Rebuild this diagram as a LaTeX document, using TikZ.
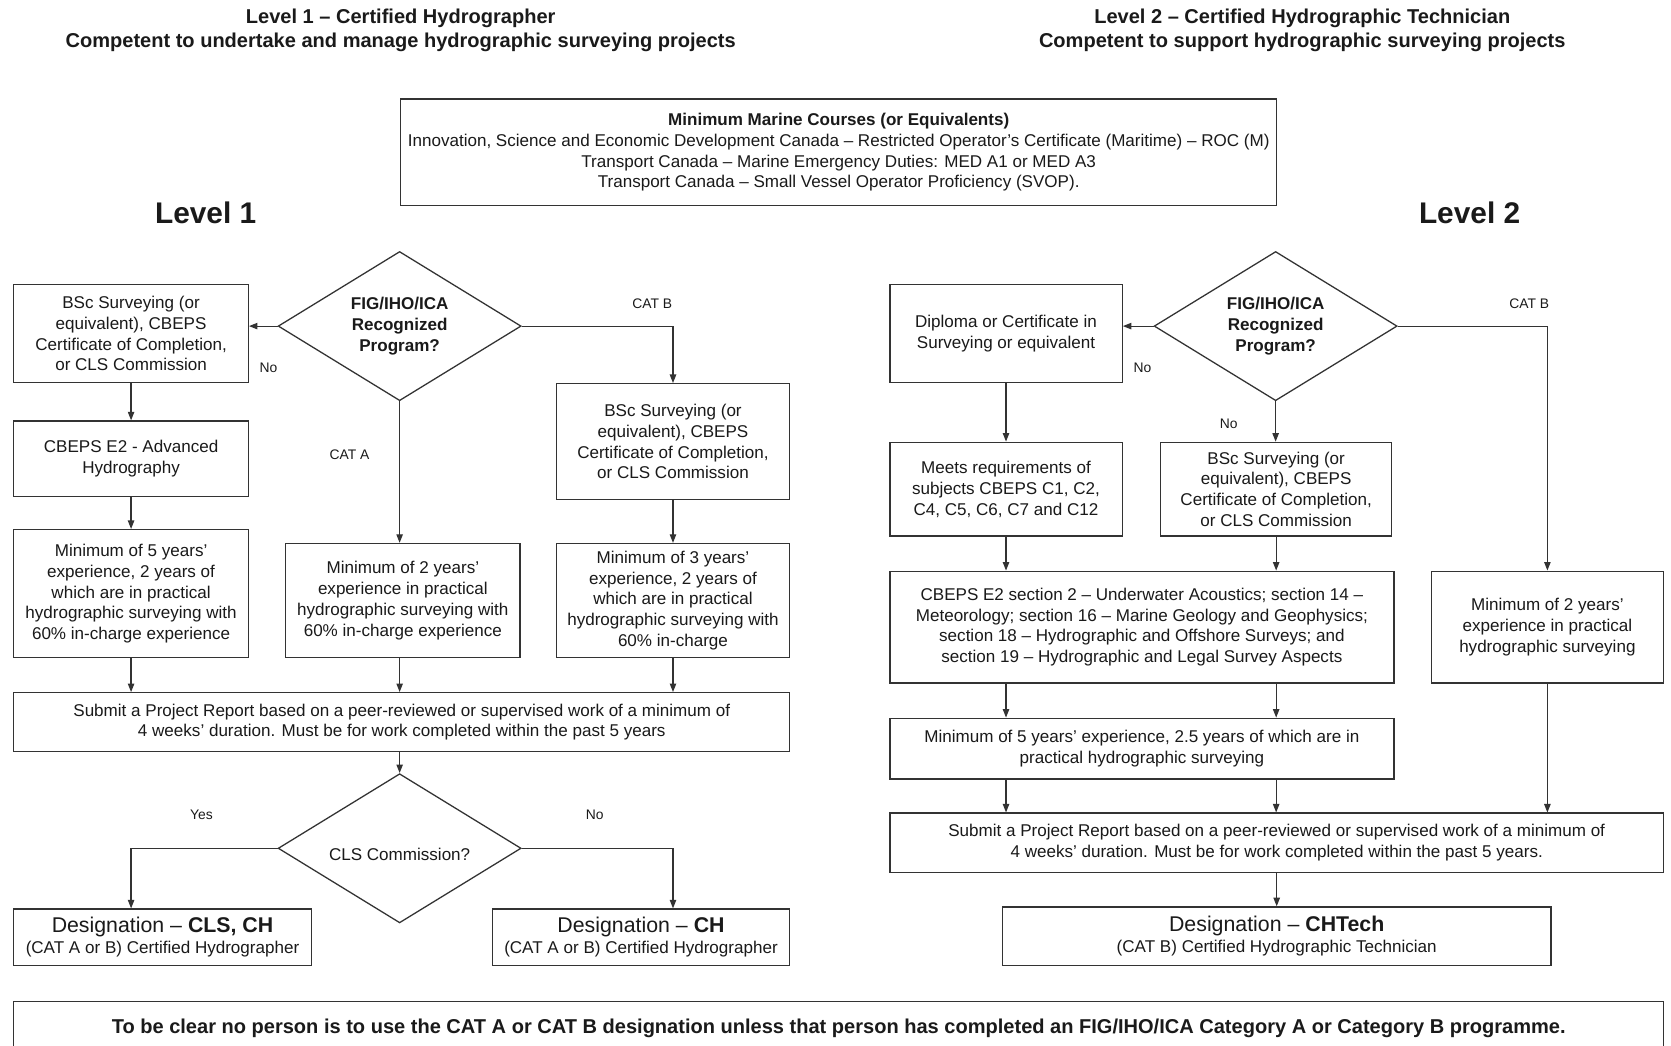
\documentclass[tikz,border=0pt]{standalone}
\usepackage{fontspec}
\setmainfont{Liberation Sans}
\usetikzlibrary{shapes.geometric,arrows.meta,calc}
\definecolor{ln}{HTML}{333333}
\definecolor{txt}{HTML}{1A1A1A}
\newcommand{\desfont}{\fontsize{20}{22}\selectfont}
\begin{document}
\begin{tikzpicture}[x=1pt,y=-1pt,
  every node/.style={text=txt},
  box/.style={draw=ln, line width=1.2pt, align=center, inner sep=2pt, font=\fontsize{16}{19.5}\selectfont},
  dia/.style={draw=ln, line width=1.2pt, diamond, inner sep=0pt, minimum width=228pt, minimum height=140pt},
  arr/.style={draw=ln, line width=1.1pt, -{Triangle[length=8pt,width=6pt]}},
  lbl/.style={font=\fontsize{13}{15}\selectfont},
  hdr/.style={font=\fontsize{18.8}{23}\selectfont\bfseries, align=center},
  lvl/.style={font=\fontsize{28}{32}\selectfont\bfseries},
  dtxt/.style={font=\fontsize{16}{19.5}\selectfont\bfseries, align=center}]
\useasboundingbox (0,0) rectangle (1568,981);
\clip (0,0) rectangle (1568,981);
\fill[white] (0,0) rectangle (1568,981);

% headers
\node[hdr] (h1) at (376,28.5) {Level 1 – Certified Hydrographer\\ Competent to undertake and manage hydrographic surveying projects};
\node[hdr] (h2) at (1222,28.5) {Level 2 – Certified Hydrographic Technician\\ Competent to support hydrographic surveying projects};

\node[box, minimum width=822pt, minimum height=100pt] (marine) at (787,143)
 {\textbf{Minimum Marine Courses (or Equivalents)}\\
  Innovation, Science and Economic Development Canada – Restricted Operator’s Certificate (Maritime) – ROC (M)\\
  Transport Canada – Marine Emergency Duties: MED A1 or MED A3\\
  Transport Canada – Small Vessel Operator Proficiency (SVOP).};

\node[lvl] (lv1) at (193,200) {Level 1};
\node[lvl] (lv2) at (1379,200) {Level 2};

% ---------- Level 1 ----------
\node[dia] (d1) at (375,306) {};
\node[dtxt] (d1t) at (d1) {FIG/IHO/ICA\\ Recognized\\ Program?};
\node[box, minimum width=220pt, minimum height=92pt] (bsc1) at (123,313)
 {BSc Surveying (or\\ equivalent), CBEPS\\ Certificate of Completion,\\ or CLS Commission};
\node[box, minimum width=220pt, minimum height=71pt] (cbe1) at (123,430.5)
 {CBEPS E2 - Advanced\\ Hydrography};
\node[box, minimum width=220pt, minimum height=120pt] (min5L) at (123,557)
 {Minimum of 5 years’\\ experience, 2 years of\\ which are in practical\\ hydrographic surveying with\\ 60\% in-charge experience};
\node[box, minimum width=219pt, minimum height=109pt] (bsc2) at (631.5,414.5)
 {BSc Surveying (or\\ equivalent), CBEPS\\ Certificate of Completion,\\ or CLS Commission};
\node[box, minimum width=219pt, minimum height=107pt] (min3) at (631.5,563.5)
 {Minimum of 3 years’\\ experience, 2 years of\\ which are in practical\\ hydrographic surveying with\\ 60\% in-charge};
\node[box, minimum width=220pt, minimum height=107pt] (min2L) at (378,563.5)
 {Minimum of 2 years’\\ experience in practical\\ hydrographic surveying with\\ 60\% in-charge experience};
\node[box, minimum width=728pt, minimum height=55pt] (subL) at (377,677.5)
 {Submit a Project Report based on a peer-reviewed or supervised work of a minimum of\\ 4 weeks’ duration. Must be for work completed within the past 5 years};
\node[dia] (d2) at (375,796) {};
\node[font=\fontsize{16}{19.5}\selectfont] (d2t) at (375,802) {CLS Commission?};
\node[box, minimum width=279pt, minimum height=53pt] (desA) at (152.5,879.5)
 {{\desfont Designation – \textbf{CLS, CH}}\\ (CAT A or B) Certified Hydrographer};
\node[box, minimum width=279pt, minimum height=53pt] (desB) at (601.5,879.5)
 {{\desfont Designation – \textbf{CH}}\\ (CAT A or B) Certified Hydrographer};

\node[lbl] (l1) at (252,345) {No};
\node[lbl] (l2) at (612,285) {CAT B};
\node[lbl] (l3) at (328,427) {CAT A};
\node[lbl] (l4) at (189,765) {Yes};
\node[lbl] (l5) at (558,765) {No};

\draw[arr] (d1.west) -- (d1.west -| bsc1.east);
\draw[arr] (d1.east) -| (bsc2.north);
\draw[arr] (d1.south) -- (d1.south |- min2L.north);
\draw[arr] (bsc1.south) -- (cbe1.north);
\draw[arr] (cbe1.south) -- (min5L.north);
\draw[arr] (bsc2.south) -- (min3.north);
\draw[arr] (min5L.south) -- (min5L.south |- subL.north);
\draw[arr] (d1.south |- min2L.south) -- (d1.south |- subL.north);
\draw[arr] (min3.south) -- (min3.south |- subL.north);
\draw[arr] (d2.north |- subL.south) -- (d2.north);
\draw[arr] (d2.west) -| (bsc1.south |- desA.north);
\draw[arr] (d2.east) -| (bsc2.south |- desB.north);

% ---------- Level 2 ----------
\node[dia] (d3) at (1197,306) {};
\node[dtxt] (d3t) at (d3) {FIG/IHO/ICA\\ Recognized\\ Program?};
\node[box, minimum width=218pt, minimum height=92pt] (dip) at (944,313)
 {Diploma or Certificate in\\ Surveying or equivalent};
\node[box, minimum width=218pt, minimum height=88pt] (meets) at (944,459)
 {Meets requirements of\\ subjects CBEPS C1, C2,\\ C4, C5, C6, C7 and C12};
\node[box, minimum width=217pt, minimum height=88pt] (bsc3) at (1197.5,459)
 {BSc Surveying (or\\ equivalent), CBEPS\\ Certificate of Completion,\\ or CLS Commission};
\node[box, minimum width=473pt, minimum height=105pt] (cbe2) at (1071.5,588.5)
 {CBEPS E2 section 2 – Underwater Acoustics; section 14 –\\ Meteorology; section 16 – Marine Geology and Geophysics;\\ section 18 – Hydrographic and Offshore Surveys; and\\ section 19 – Hydrographic and Legal Survey Aspects};
\node[box, minimum width=218pt, minimum height=105pt] (min2R) at (1452,588.5)
 {Minimum of 2 years’\\ experience in practical\\ hydrographic surveying};
\node[box, minimum width=473pt, minimum height=57pt] (min5R) at (1071.5,702.5)
 {Minimum of 5 years’ experience, 2.5 years of which are in\\ practical hydrographic surveying};
\node[box, minimum width=726pt, minimum height=56pt] (subR) at (1198,791)
 {Submit a Project Report based on a peer-reviewed or supervised work of a minimum of\\ 4 weeks’ duration. Must be for work completed within the past 5 years.};
\node[box, minimum width=515pt, minimum height=55pt] (desC) at (1198,878.5)
 {{\desfont Designation – \textbf{CHTech}}\\ (CAT B) Certified Hydrographic Technician};

\node[lbl] (l6) at (1072,345) {No};
\node[lbl] (l7) at (1153,398) {No};
\node[lbl] (l8) at (1435,285) {CAT B};

\draw[arr] (d3.west) -- (d3.west -| dip.east);
\draw[arr] (d3.south) -- (d3.south |- bsc3.north);
\draw[arr] (d3.east) -| (min2R.north);
\draw[arr] (dip.south) -- (meets.north);
\draw[arr] (meets.south) -- (meets.south |- cbe2.north);
\draw[arr] (bsc3.south) -- (bsc3.south |- cbe2.north);
\draw[arr] (meets.south |- cbe2.south) -- (meets.south |- min5R.north);
\draw[arr] (bsc3.south |- cbe2.south) -- (bsc3.south |- min5R.north);
\draw[arr] (meets.south |- min5R.south) -- (meets.south |- subR.north);
\draw[arr] (bsc3.south |- min5R.south) -- (bsc3.south |- subR.north);
\draw[arr] (min2R.south) -- (min2R.south |- subR.north);
\draw[arr] (subR.south) -- (subR.south |- desC.north);

% bottom note
\node[box, minimum width=1548pt, minimum height=50pt, font=\fontsize{18.8}{22}\selectfont\bfseries] (note) at (787,965)
 {To be clear no person is to use the CAT A or CAT B designation unless that person has completed an FIG/IHO/ICA Category A or Category B programme.};
\end{tikzpicture}
\end{document}
